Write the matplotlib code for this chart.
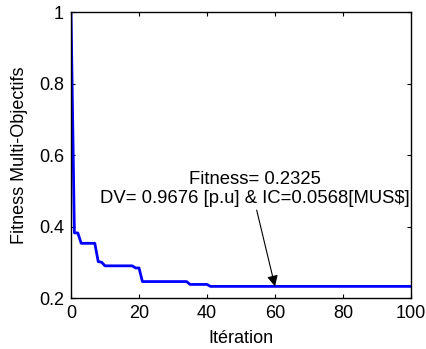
import matplotlib
matplotlib.use("Agg")
import matplotlib.pyplot as plt

plt.rcParams['font.family'] = ['Liberation Sans', 'DejaVu Sans']

# Best multi-objective fitness per iteration (change points)
iterations = [0, 1, 2, 3, 7, 8, 9, 10, 18, 19, 20, 21, 34, 35, 40, 41, 100]
fitness = [1.0, 0.382, 0.382, 0.353, 0.353, 0.302, 0.300, 0.290, 0.290,
           0.284, 0.284, 0.246, 0.246, 0.238, 0.238, 0.2325, 0.2325]

best_iter = 60
best_fit = 0.2325
dv = 0.9676
ic = 0.0568

x_ticks = [0, 20, 40, 60, 80, 100]
y_ticks = [0.2, 0.4, 0.6, 0.8, 1.0]
y_tick_labels = ['0.2', '0.4', '0.6', '0.8', '1']

FS = 13

fig = plt.figure(figsize=(4.27, 3.49), dpi=100)
ax = fig.add_axes([0.1663, 0.1461, 0.7963, 0.8195])

ax.plot(iterations, fitness, color=(0, 0, 1), lw=2.0)

ax.set_xlim(0, 100)
ax.set_ylim(0.2, 1.0)
ax.set_xticks(x_ticks)
ax.set_yticks(y_ticks)
ax.set_yticklabels(y_tick_labels)
ax.tick_params(direction='in', top=True, right=True, length=3, width=0.8,
               labelsize=FS, pad=5)
for s in ax.spines.values():
    s.set_linewidth(1.0)

ax.set_xlabel('Itération', fontsize=FS, labelpad=6)
ax.set_ylabel('Fitness Multi-Objectifs', fontsize=FS, labelpad=8)

ax.text(54.1, 0.466,
        f'Fitness= {best_fit}\nDV= {dv} [p.u] & IC={ic}[MUS$]',
        ha='center', va='baseline', multialignment='center', fontsize=13.3,
        linespacing=1.15)
ax.annotate('', xy=(best_iter, best_fit), xytext=(54.6, 0.446),
            arrowprops=dict(arrowstyle='-|>', color='black', lw=0.8,
                            mutation_scale=16, shrinkA=0, shrinkB=0))

fig.savefig('out.png', dpi=100)
